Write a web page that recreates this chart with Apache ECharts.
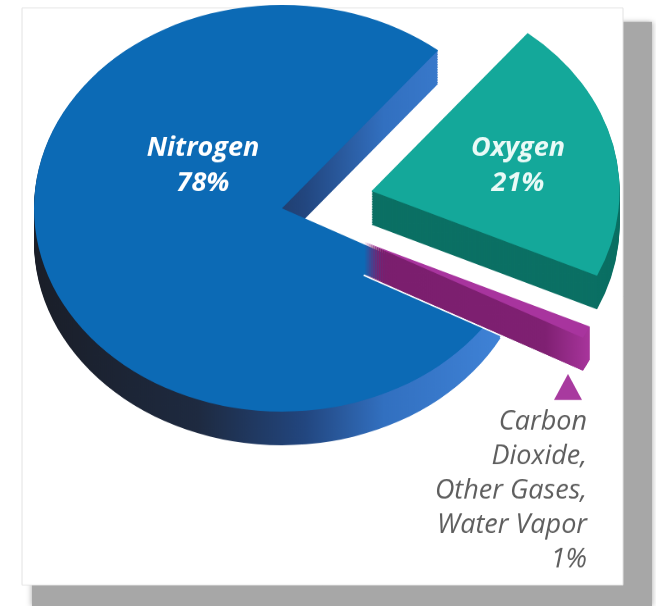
<!DOCTYPE html>
<html><head><meta charset="utf-8">
<script src="https://cdn.jsdelivr.net/npm/echarts@6/dist/echarts.min.js"></script>
<style>
html,body{margin:0;padding:0;background:#fff;overflow:hidden;width:656px;height:606px}
#wrap{width:656px;height:606px;overflow:hidden}
#chart{width:656px;height:739px;transform:scaleY(0.82);transform-origin:0 0}
</style>
</head><body><div id="wrap"><div id="chart"></div></div>
<script>
// ---- data ----
const names = ['Oxygen', 'Carbon Dioxide, Other Gases, Water Vapor', 'Nitrogen'];
const values = [21, 1, 78];
const exploded = [true, true, false];
const otherLines = ['Carbon', 'Dioxide,', 'Other Gases,', 'Water Vapor'];

// ---- style ----
const SY = 0.82;                 // vertical squash of the tilted pie
const cy = y => y / SY;          // screen y -> chart y
const topColors = ['#14a89a', '#a8349e', '#0c6ab5'];
const nitroSide = new echarts.graphic.LinearGradient(0, 0, 1, 0, [
  { offset: 0, color: '#1a1e28' },
  { offset: 0.35, color: '#1e2a40' },
  { offset: 0.58, color: '#22467f' },
  { offset: 0.75, color: '#3270c0' },
  { offset: 1, color: '#3f82d6' }
]);
const purpleSide = new echarts.graphic.LinearGradient(0, 0, 1, 0, [
  { offset: 0, color: '#7a1e6d' },
  { offset: 0.8, color: '#7f2072' },
  { offset: 1, color: '#a8359c' }
]);
const sideColors = ['#0b7064', purpleSide, nitroSide];
const DEPTH = 41, R = 248, CX = 282, CY = 254;

// show: which slices this layer paints (others are left transparent)
function pieLayer(depth, colors, show, z, stroke) {
  return {
    type: 'pie', silent: true, animation: false, z: z,
    startAngle: 51, clockwise: true, radius: R, center: [CX, CY + depth],
    selectedMode: 'multiple', selectedOffset: 92,
    label: { show: false }, labelLine: { show: false },
    emphasis: { disabled: true, scale: false },
    itemStyle: { borderWidth: 0 },
    data: names.map((n, i) => {
      const st = show[i]
        ? { color: colors[i], borderWidth: stroke ? 2 : 0, borderColor: '#ffffff' }
        : { color: 'transparent', borderWidth: 0, borderColor: 'transparent' };
      return { name: n, value: values[i], selected: exploded[i], itemStyle: st, select: { itemStyle: st } };
    })
  };
}

const mainShow = [true, false, true];
const smallShow = [false, true, false];
const series = [];
for (let d = DEPTH; d > 0; d -= 2) series.push(pieLayer(d, sideColors, mainShow, 2, false));
series.push(pieLayer(0, topColors, mainShow, 3, false));
for (let d = DEPTH; d > 0; d -= 1) series.push(pieLayer(d, sideColors, smallShow, 4, d === DEPTH));
series.push(pieLayer(0, topColors, smallShow, 5, false));

const pct = i => values[i] + '%';
const chart = echarts.init(document.getElementById('chart'), null, { renderer: 'canvas' });
chart.setOption({
  animation: false,
  backgroundColor: '#ffffff',
  series: series,
  graphic: [
    { type: 'rect', z: -5, shape: { x: 32, y: cy(22), width: 620, height: cy(606) - cy(22) },
      style: { fill: '#a7a7a7', shadowBlur: 6, shadowColor: '#a7a7a7' } },
    { type: 'rect', z: -4, shape: { x: 22, y: cy(8), width: 601, height: cy(585) - cy(8) },
      style: { fill: '#ffffff', stroke: '#e2e2e2', lineWidth: 1 } },
    { type: 'text', z: 100, x: 203, y: cy(166), scaleY: 1 / SY,
      style: { text: names[2] + '\n' + pct(2), fill: '#ffffff', fontFamily: 'Open Sans', fontSize: 27,
        fontStyle: 'italic', fontWeight: 'bold', textAlign: 'center', textVerticalAlign: 'middle',
        align: 'center', verticalAlign: 'middle', lineHeight: 35 } },
    { type: 'text', z: 100, x: 518, y: cy(166), scaleY: 1 / SY,
      style: { text: names[0] + '\n' + pct(0), fill: '#eafaf7', fontFamily: 'Open Sans', fontSize: 27,
        fontStyle: 'italic', fontWeight: 'bold', textAlign: 'center', textVerticalAlign: 'middle',
        align: 'center', verticalAlign: 'middle', lineHeight: 35 } },
    { type: 'polygon', z: 100, shape: { points: [[568, cy(374)], [554, cy(400)], [582, cy(400)]] },
      style: { fill: '#a83a9f' } },
    { type: 'text', z: 100, x: 587, y: cy(491), scaleY: 1 / SY,
      style: { text: otherLines.concat([pct(1)]).join('\n'), fill: '#5e5e5e', fontFamily: 'Open Sans', fontSize: 27,
        fontStyle: 'italic', textAlign: 'right', textVerticalAlign: 'middle',
        align: 'right', verticalAlign: 'middle', lineHeight: 34.5 } }
  ]
});
</script>
</body></html>
